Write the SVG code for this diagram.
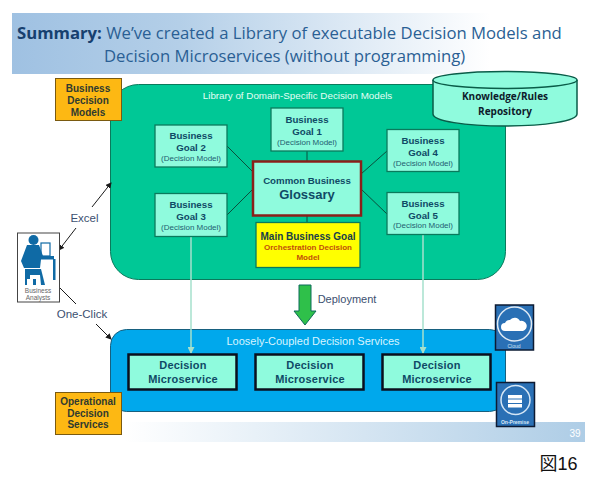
<svg xmlns="http://www.w3.org/2000/svg" width="590" height="485" viewBox="0 0 590 485">
<defs>
<linearGradient id="hd" x1="0" x2="1" y1="0" y2="0"><stop offset="0" stop-color="#9fc1e2"/><stop offset="0.35" stop-color="#b4cfe8"/><stop offset="1" stop-color="#ffffff"/></linearGradient>
<linearGradient id="ft" x1="0" x2="1" y1="0" y2="0"><stop offset="0" stop-color="#ffffff"/><stop offset="1" stop-color="#aecde6"/></linearGradient>
<marker id="ah" markerWidth="6" markerHeight="6" refX="5" refY="3" orient="auto" markerUnits="userSpaceOnUse"><path d="M0 0L6 3L0 6Z" fill="#1a1a1a"/></marker>
<marker id="pa" markerWidth="7" markerHeight="7" refX="6" refY="3.5" orient="auto" markerUnits="userSpaceOnUse"><path d="M0 0L7 3.5L0 7Z" fill="#a6e0cc"/></marker>
</defs>
<style>
text{font-family:"Liberation Sans",Arial,sans-serif;text-anchor:middle}
.goal{fill:#8ffbdd;stroke:#0a7a5c;stroke-width:1.3}
.gt{font-size:9.700px;font-weight:bold;fill:#0f4a66}
.gs{font-size:8px;fill:#1f6070}
.org{fill:#fdb813;stroke:#7a5a10;stroke-width:1}
.ot{font-size:10px;font-weight:bold;fill:#2f3a30}
.ms{fill:#8ffbdd;stroke:#0a0f1e;stroke-width:2.5}
.mt{font-size:11px;font-weight:bold;fill:#0f4a66;letter-spacing:.2px}
.lk{stroke:#0b4f3c;stroke-width:1;fill:none}
.ar{stroke:#1a1a1a;stroke-width:1;fill:none}
.pale{stroke:#a6e0cc;stroke-width:1.5;fill:none}
.lab{font-size:11.500px;fill:#3c5070}
.hd{font-family:"Open Sans","Noto Sans",sans-serif;font-size:16.700px;fill:#2a5f94;text-anchor:start}
.ic{fill:#2a70b5;stroke:#0d1b33;stroke-width:1.5}
</style>
<rect x="12" y="13" width="478" height="61" fill="url(#hd)"/>
<text class="hd" x="17" y="39"><tspan font-weight="bold" fill="#17406f">Summary:</tspan> We’ve created a Library of executable Decision Models and</text>
<text class="hd" x="104" y="62">Decision Microservices (without programming)</text>
<rect x="125" y="422" width="460" height="20" fill="url(#ft)"/>
<text x="575" y="437" font-size="10" fill="#ffffff">39</text>
<text x="558.500" y="470" font-size="18" fill="#111111" style="font-family:'Liberation Sans','Noto Sans CJK JP',sans-serif">図16</text>

<g id="library"><rect x="110.500" y="84.500" width="395" height="195" rx="28" fill="#00c896" stroke="#0a7a5c"/><text x="297.500" y="99" font-size="9.800" fill="#e4fff5">Library of Domain-Specific Decision Models</text></g>
<g id="services"><rect x="110.500" y="329.500" width="395" height="82" rx="16" fill="#00a8ec" stroke="#17607f"/><text x="313" y="345" font-size="11" fill="#d8f4ff">Loosely-Coupled Decision Services</text></g>

<g id="connectors">
<path class="lk" d="M227 146L253 172M227 215L253 189M307 151V161M307 215V222M361 174L387 151M361 189L387 214"/>
<path class="pale" d="M191 236V353" marker-end="url(#pa)"/>
<path class="pale" d="M423 235V353" marker-end="url(#pa)"/>
<path class="ar" d="M92 207L111 183" marker-end="url(#ah)"/>
<path class="ar" d="M76 228L59 250" marker-end="url(#ah)"/>
<path class="ar" d="M60 288L76 304"/>
<path class="ar" d="M96 324L111 339" marker-end="url(#ah)"/>
<path d="M299 285H311V311H316L305 325L294 311H299Z" fill="#2fc04a" stroke="#0d6a5a"/>
</g>
<text class="lab" x="84.500" y="222">Excel</text>
<text class="lab" x="82" y="318">One-Click</text>
<text x="347" y="303" font-size="11" fill="#3c5070">Deployment</text>

<g id="repository"><path d="M433 80V114C433 121 465 126 505 126S577 121 577 114V80" fill="#8ffbdd" stroke="#0a5c48" stroke-width="1.500"/><ellipse cx="505" cy="80" rx="72" ry="8.500" fill="#8ffbdd" stroke="#0a5c48" stroke-width="1.500"/><text x="505" y="100" font-size="10" font-weight="bold" fill="#0d1b2b" style="font-family:'Open Sans',sans-serif">Knowledge/Rules</text><text x="505" y="115" font-size="10" font-weight="bold" fill="#0d1b2b" style="font-family:'Open Sans',sans-serif">Repository</text></g>

<g id="bdm"><rect class="org" x="55.500" y="78.500" width="66" height="42"/><text class="ot" x="88" y="92">Business</text><text class="ot" x="88" y="104">Decision</text><text class="ot" x="88" y="116">Models</text></g>
<g id="ods"><rect class="org" x="55.500" y="392.500" width="66" height="42"/><text class="ot" x="88" y="405">Operational</text><text class="ot" x="88" y="417">Decision</text><text class="ot" x="88" y="428">Services</text></g>

<g id="goal1"><rect class="goal" x="271" y="108" width="72" height="43"/><text class="gt" x="307" y="123">Business</text><text class="gt" x="307" y="135">Goal 1</text><text class="gs" x="307" y="145">(Decision Model)</text></g>
<g id="goal2"><rect class="goal" x="155" y="125" width="72" height="42"/><text class="gt" x="191" y="139">Business</text><text class="gt" x="191" y="151">Goal 2</text><text class="gs" x="191" y="161">(Decision Model)</text></g>
<g id="goal3"><rect class="goal" x="155" y="193.500" width="72" height="43"/><text class="gt" x="191" y="208">Business</text><text class="gt" x="191" y="220">Goal 3</text><text class="gs" x="191" y="230">(Decision Model)</text></g>
<g id="goal4"><rect class="goal" x="387" y="129.500" width="72" height="42"/><text class="gt" x="423" y="144">Business</text><text class="gt" x="423" y="156">Goal 4</text><text class="gs" x="423" y="166">(Decision Model)</text></g>
<g id="goal5"><rect class="goal" x="387" y="192.500" width="72" height="42"/><text class="gt" x="423" y="207">Business</text><text class="gt" x="423" y="219">Goal 5</text><text class="gs" x="423" y="228">(Decision Model)</text></g>
<g id="glossary"><rect x="253" y="161.500" width="108" height="54" fill="#8ffbdd" stroke="#8a1f1a" stroke-width="2.500"/><text x="307" y="184" font-size="9.700" font-weight="bold" fill="#0f4a66">Common Business</text><text x="307" y="199" font-size="13" font-weight="bold" fill="#0f4a66">Glossary</text></g>
<g id="main"><rect x="256" y="222.500" width="104" height="45" fill="#ffff00" stroke="#0a7a5c" stroke-width="1.300"/><text x="308" y="240" font-size="10" font-weight="bold" fill="#17404a">Main Business Goal</text><text x="308" y="250" font-size="8" font-weight="bold" fill="#c2500a">Orchestration Decision</text><text x="308" y="260" font-size="8" font-weight="bold" fill="#c2500a">Model</text></g>

<g id="ms1"><rect class="ms" x="128.500" y="354.500" width="108" height="35"/><text class="mt" x="183" y="369">Decision</text><text class="mt" x="183" y="383">Microservice</text></g>
<g id="ms2"><rect class="ms" x="255.500" y="354.500" width="108" height="35"/><text class="mt" x="310" y="369">Decision</text><text class="mt" x="310" y="383">Microservice</text></g>
<g id="ms3"><rect class="ms" x="382.500" y="354.500" width="108" height="35"/><text class="mt" x="437" y="369">Decision</text><text class="mt" x="437" y="383">Microservice</text></g>

<g id="analyst"><rect x="17.500" y="233" width="42" height="69" fill="#ffffff" stroke="#444444"/>
<g fill="#0f6aa5"><circle cx="33.500" cy="240" r="5"/><path d="M27 245H39L43 256H54V259.500H41L40 268H24L21 261Z"/><rect x="41" y="243" width="9" height="13" fill="none" stroke="#0f6aa5" stroke-width="1.200"/><rect x="53" y="259" width="2.500" height="21"/><path d="M25 269H41L45 285H41L40 275H30V279H25Z"/><rect x="25" y="279" width="2" height="6"/><rect x="33" y="279" width="3" height="6"/></g>
<text x="38" y="292.500" font-size="6.500" fill="#666666">Business</text><text x="38" y="299.500" font-size="6.500" fill="#666666">Analysts</text></g>

<g id="cloud"><rect class="ic" x="495.500" y="305" width="38" height="45"/><circle cx="514.500" cy="324" r="17" fill="none" stroke="#ffffff" stroke-width="1.500" opacity=".85"/><path d="M505 331a4 4 0 0 1 0-8a5 5 0 0 1 5-3a6 6 0 0 1 10 1a5 5 0 0 1 3 10Z" fill="#ffffff"/><text x="514" y="348" font-size="5" fill="#cfe0f2">Cloud</text></g>
<g id="onprem"><rect class="ic" x="496.500" y="382.500" width="38" height="44" fill="#3d85c6"/><circle cx="515.500" cy="400" r="14.500" fill="none" stroke="#d5e6f5" stroke-width="1.500"/><g fill="#ffffff"><rect x="508" y="395" width="14" height="3.500"/><rect x="508" y="399.500" width="14" height="3.500"/><rect x="508" y="404" width="14" height="3.500"/></g><text x="515" y="424" font-size="5" font-weight="bold" fill="#dbe8f5">On-Premise</text></g>
</svg>
